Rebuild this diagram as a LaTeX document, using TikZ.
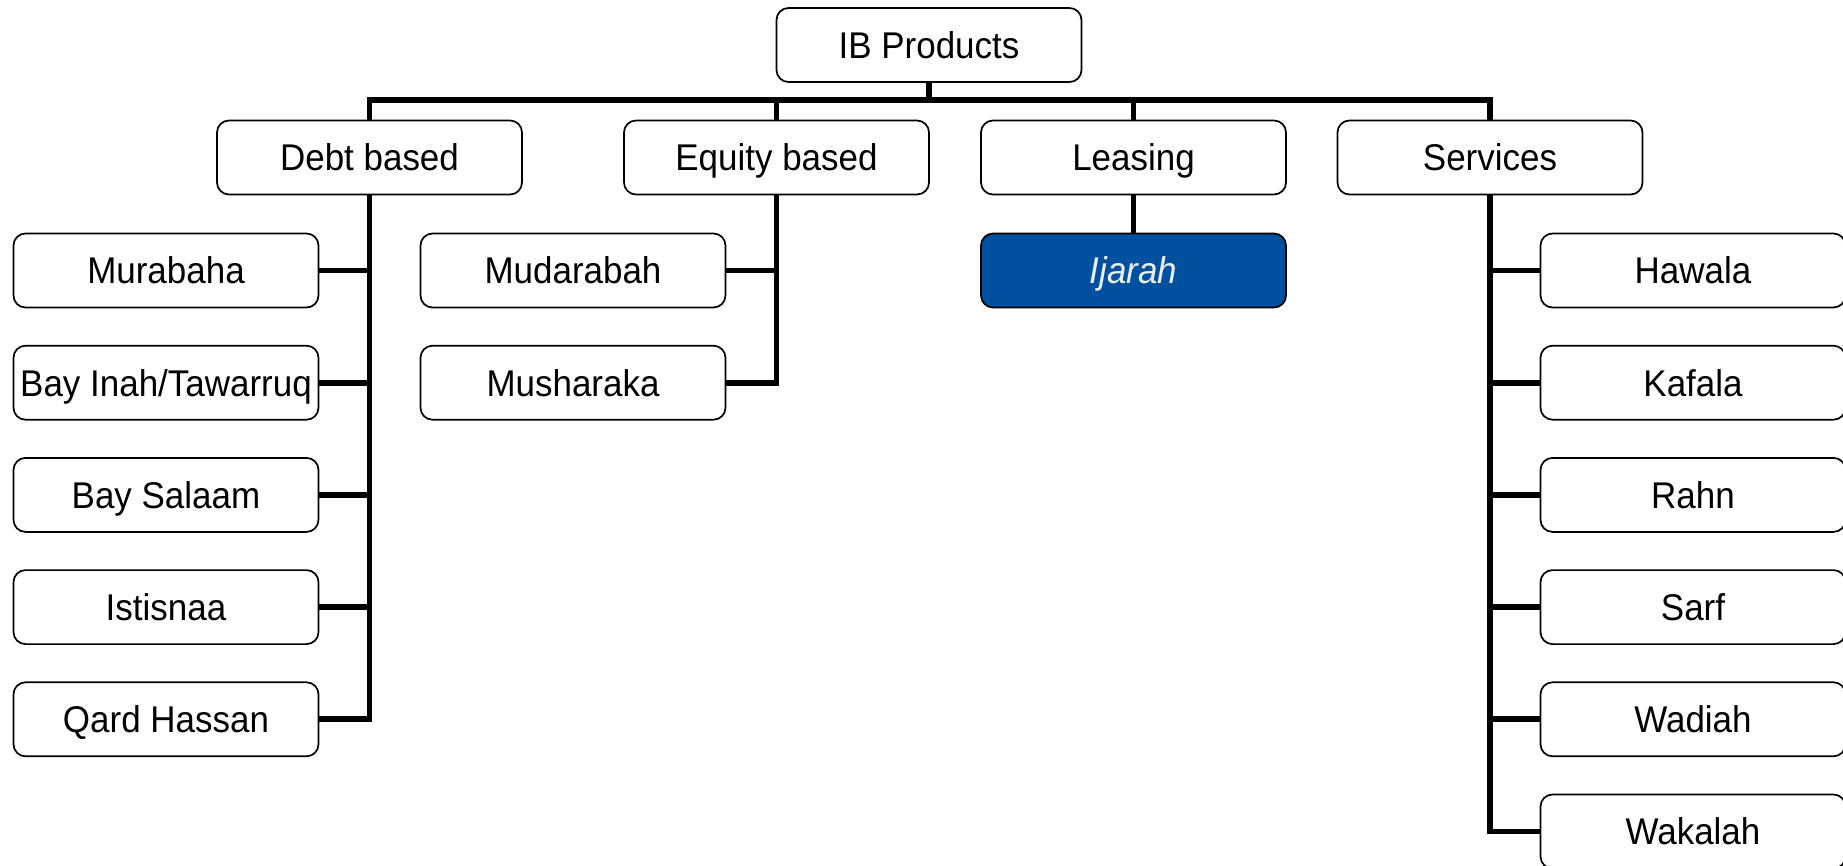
\documentclass[tikz,border=0pt]{standalone}
\usepackage{fontspec}
\setmainfont[FakeStretch=0.94]{Liberation Sans}
\definecolor{ijblue}{RGB}{0,80,160}
\definecolor{ijtext}{RGB}{235,238,245}
\begin{document}
\begin{tikzpicture}[x=0.5pt,y=-0.5pt,
  box/.style={draw=black,line width=0.85pt,rounded corners=6pt,fill=white,
    minimum width=152.5pt,minimum height=37pt,inner xsep=0.5pt,inner ysep=0pt,
    text height=13.3pt,text depth=0pt,
    font=\fontsize{18.6}{22}\selectfont,anchor=center},
  hlbox/.style={box,fill=ijblue,text=ijtext,font=\fontsize{18.6}{22}\selectfont\itshape},
  conn/.style={line width=2.9pt,line join=miter}]
\useasboundingbox (0,0) rectangle (1843,866);
% root and level 2
\node[box] (root) at (929,45) {IB Products};
\node[box] (debt) at (369.5,157.5) {Debt based};
\node[box] (equity) at (776.5,157.5) {Equity based};
\node[box] (leas) at (1133.5,157.5) {Leasing};
\node[box] (serv) at (1490,157.5) {Services};
\coordinate (bus) at (929,100);
% children
\node[box] (c1) at (166,270.5) {Murabaha};
\node[box] (c2) at (166,382.7) {Bay Inah/Tawarruq};
\node[box] (c3) at (166,494.9) {Bay Salaam};
\node[box] (c4) at (166,607.1) {Istisnaa};
\node[box] (c5) at (166,719.3) {Qard Hassan};
\node[box] (e1) at (573,270.5) {Mudarabah};
\node[box] (e2) at (573,382.7) {Musharaka};
\node[hlbox] (ij) at (1133.5,270.5) {Ijarah};
\node[box] (s1) at (1693,270.5) {Hawala};
\node[box] (s2) at (1693,382.7) {Kafala};
\node[box] (s3) at (1693,494.9) {Rahn};
\node[box] (s4) at (1693,607.1) {Sarf};
\node[box] (s5) at (1693,719.3) {Wadiah};
\node[box] (s6) at (1693,831.5) {Wakalah};
% connectors
\draw[conn] (root.south) -- (bus);
\draw[conn] (debt.north) |- (bus);
\draw[conn] (equity.north) |- (bus);
\draw[conn] (leas.north) |- (bus);
\draw[conn] (serv.north) |- (bus);
\foreach \c in {c1,c2,c3,c4,c5} \draw[conn] (debt.south) |- (\c.east);
\foreach \c in {e1,e2} \draw[conn] (equity.south) |- (\c.east);
\draw[conn] (leas.south) -- (ij.north);
\foreach \c in {s1,s2,s3,s4,s5,s6} \draw[conn] (serv.south) |- (\c.west);
\end{tikzpicture}
\end{document}
